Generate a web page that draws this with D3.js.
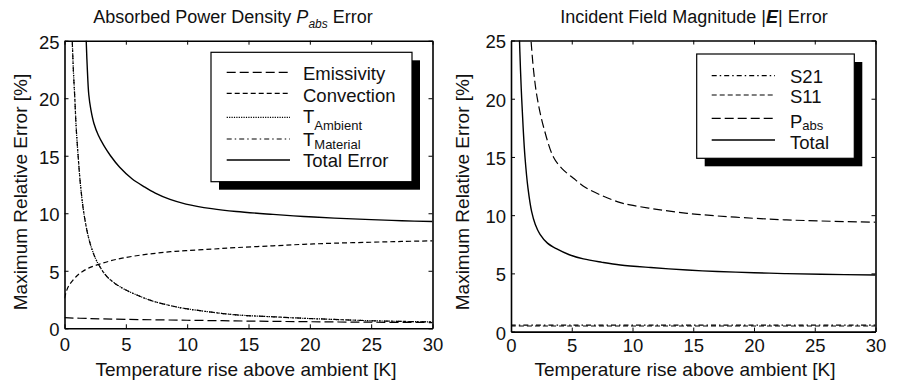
<!DOCTYPE html>
<html>
<head>
<meta charset="utf-8">
<script src="https://cdn.jsdelivr.net/npm/d3@7"></script>
<style>
body { margin: 0; background: #fff; }
svg { display: block; font-family: "Liberation Sans", Arial, sans-serif; }
</style>
</head>
<body>
<svg width="897" height="380"></svg>
<script>
// left panel: absorbed power density error
var emisX = [0, 2, 5, 10, 15, 20, 25, 30];
var emisY = [0.92, 0.85, 0.78, 0.7, 0.63, 0.57, 0.53, 0.5];
var convX = [0, 0.15, 0.35, 0.63, 1.0, 1.44, 2.0, 2.8, 3.7, 4.7, 6, 7.4, 8.64, 9.9, 12, 14.07, 17, 19.5, 22, 24.94, 27.5, 30];
var convY = [2.6, 3.2, 3.7, 4.1, 4.55, 4.92, 5.25, 5.56, 5.85, 6.1, 6.33, 6.52, 6.66, 6.75, 6.88, 7.02, 7.17, 7.3, 7.4, 7.48, 7.55, 7.6];
var tAmbX = [0.6, 0.72, 0.84, 0.95, 1.11, 1.3, 1.58, 1.98, 2.4, 2.8, 3.5, 4.7, 6, 7.15, 8.64, 9.6, 12, 14.07, 17, 19.5, 22, 24.94, 27.5, 30];
var tAmbY = [26, 22.5, 20, 17.5, 15, 12.5, 10, 7.8, 6.4, 5.5, 4.45, 3.5, 2.85, 2.38, 1.97, 1.76, 1.4, 1.16, 1.0, 0.87, 0.77, 0.66, 0.6, 0.55];
var tMatX = [0.6, 0.72, 0.84, 0.95, 1.11, 1.3, 1.58, 1.98, 2.4, 2.8, 3.5, 4.7, 6, 7.15, 8.64, 9.6, 12, 14.07, 17, 19.5, 22, 24.94, 27.5, 30];
var tMatY = [26, 22.5, 20, 17.5, 15, 12.5, 10, 7.8, 6.4, 5.5, 4.45, 3.5, 2.85, 2.38, 1.97, 1.76, 1.4, 1.16, 1.0, 0.87, 0.77, 0.66, 0.6, 0.56];
var totLX = [1.74, 1.77, 1.85, 1.98, 2.15, 2.4, 2.75, 3.2, 3.75, 4.5, 5.5, 6.5, 7.4, 8.6, 9.9, 12, 14, 17, 19.5, 22, 25, 27.5, 30];
var totLY = [26, 25, 22.8, 20.3, 19.0, 17.8, 16.8, 15.9, 15.0, 14.0, 13.0, 12.3, 11.75, 11.2, 10.8, 10.4, 10.15, 9.9, 9.72, 9.58, 9.45, 9.35, 9.28];

// right panel: incident field magnitude error
var s21X = [0, 5, 10, 15, 20, 25, 30];
var s21Y = [0.55, 0.55, 0.55, 0.55, 0.55, 0.55, 0.55];
var s11X = [0, 5, 10, 15, 20, 25, 30];
var s11Y = [0.48, 0.48, 0.48, 0.48, 0.48, 0.48, 0.48];
var pabsX = [1.58, 1.85, 2.17, 2.7, 3.49, 4.2, 5.14, 6.1, 7.34, 9.0, 9.8, 12, 14.5, 17, 20, 22.5, 25.5, 30];
var pabsY = [26, 22.5, 20, 17.5, 15, 14, 13.17, 12.4, 11.74, 11.08, 10.88, 10.5, 10.16, 9.93, 9.73, 9.6, 9.5, 9.39];
var totRX = [0.67, 0.78, 0.88, 1.0, 1.15, 1.4, 1.7, 2.0, 2.39, 3.0, 3.77, 4.8, 5.96, 7.5, 9.0, 11.5, 14.5, 17, 20, 22.5, 25.5, 30];
var totRY = [26, 22.5, 20, 17.5, 15, 12.3, 10.3, 9.2, 8.35, 7.6, 7.1, 6.6, 6.24, 5.95, 5.72, 5.5, 5.29, 5.16, 5.06, 4.98, 4.92, 4.86];

var xTicks = [0, 5, 10, 15, 20, 25, 30];
var yTicks = [0, 5, 10, 15, 20, 25];

var svg = d3.select("svg");

function zip(xs, ys) {
  return xs.map(function(x, i) { return [x, ys[i]]; });
}

function panel(opt) {
  var x = d3.scaleLinear().domain([0, 30]).range([opt.left, opt.right]);
  var y = d3.scaleLinear().domain([0, 25]).range([opt.bottom, opt.top]);
  var g = svg.append("g");

  g.append("clipPath").attr("id", opt.id)
    .append("rect")
    .attr("x", opt.left).attr("y", opt.top)
    .attr("width", opt.right - opt.left).attr("height", opt.bottom - opt.top);

  var line = d3.line()
    .x(function(d) { return x(d[0]); })
    .y(function(d) { return y(d[1]); })
    .curve(d3.curveCatmullRom.alpha(0.5));

  opt.series.forEach(function(s) {
    g.append("path")
      .attr("d", line(zip(s.xs, s.ys)))
      .attr("clip-path", "url(#" + opt.id + ")")
      .attr("fill", "none")
      .attr("stroke", "#000")
      .attr("stroke-width", s.w || 1.2)
      .attr("stroke-dasharray", s.dash);
  });

  // axes, ticks inward on all four sides
  g.append("g").attr("transform", "translate(0," + opt.bottom + ")")
    .call(d3.axisBottom(x).tickValues(xTicks).tickSizeInner(-4).tickSizeOuter(0).tickPadding(opt.xPad));
  var left = g.append("g").attr("transform", "translate(" + opt.left + ",0)")
    .call(d3.axisLeft(y).tickValues(yTicks).tickSizeInner(-4).tickSizeOuter(0).tickPadding(5));
  g.append("g").attr("transform", "translate(0," + opt.top + ")")
    .call(d3.axisTop(x).tickValues(xTicks).tickSizeInner(-4).tickSizeOuter(0).tickFormat(""));
  g.append("g").attr("transform", "translate(" + opt.right + ",0)")
    .call(d3.axisRight(y).tickValues(yTicks).tickSizeInner(-4).tickSizeOuter(0).tickFormat(""));

  g.selectAll(".domain").attr("stroke", "#000").attr("stroke-width", 1.6);
  g.selectAll(".tick line").attr("stroke", "#000").attr("stroke-width", 1);
  g.selectAll(".tick text").attr("font-size", 18.5).attr("fill", "#111")
    .attr("font-family", "Liberation Sans, Arial, sans-serif");
  left.selectAll(".tick text").attr("dy", "0.4em");

  // axis labels
  g.append("text")
    .attr("x", opt.xLabelX).attr("y", 376)
    .attr("text-anchor", "middle").attr("font-size", 19).attr("fill", "#111")
    .text("Temperature rise above ambient [K]");
  g.append("text")
    .attr("transform", "translate(" + opt.yLabelX + ",192) rotate(-90)")
    .attr("text-anchor", "middle").attr("font-size", 19).attr("fill", "#111")
    .text("Maximum Relative Error [%]");

  // legend with drop shadow
  var L = opt.legend;
  g.append("rect").attr("x", L.x + 8).attr("y", L.y + 8).attr("width", L.w).attr("height", L.h).attr("fill", "#000");
  g.append("rect").attr("x", L.x).attr("y", L.y).attr("width", L.w).attr("height", L.h)
    .attr("fill", "#fff").attr("stroke", "#000").attr("stroke-width", 1.2);
  L.items.forEach(function(it, i) {
    g.append("line")
      .attr("x1", L.lx1).attr("x2", L.lx2).attr("y1", it.ly).attr("y2", it.ly)
      .attr("stroke", "#000").attr("stroke-width", opt.series[i].w || 1.2)
      .attr("stroke-dasharray", opt.series[i].dash);
    var t = g.append("text").attr("x", L.tx).attr("y", it.ty).attr("font-size", 18.5).attr("fill", "#111");
    t.append("tspan").text(it.label);
    if (it.sub) {
      t.append("tspan").attr("font-size", 13).attr("dy", it.subDy).text(it.sub);
    }
  });

  return g;
}

panel({
  id: "clipL", left: 64.5, right: 432.5, top: 40.7, bottom: 328.3, xPad: 10,
  xLabelX: 246, yLabelX: 27,
  series: [
    { xs: emisX, ys: emisY, dash: "9,4" },
    { xs: convX, ys: convY, dash: "5,3" },
    { xs: tAmbX, ys: tAmbY, dash: "1.2,1.2" },
    { xs: tMatX, ys: tMatY, dash: "5,3,1.5,3" },
    { xs: totLX, ys: totLY, dash: null, w: 1.4 }
  ],
  legend: {
    x: 211, y: 52.3, w: 201, h: 129.4, lx1: 226.7, lx2: 290, tx: 303,
    items: [
      { label: "Emissivity", ly: 72.3, ty: 80 },
      { label: "Convection", ly: 93.3, ty: 101.7 },
      { label: "T", sub: "Ambient", subDy: 7, ly: 117.3, ty: 122.7 },
      { label: "T", sub: "Material", subDy: 3, ly: 139, ty: 146 },
      { label: "Total Error", ly: 160, ty: 167.3 }
    ]
  }
});

panel({
  id: "clipR", left: 511, right: 875.5, top: 40.5, bottom: 331.6, xPad: 7,
  xLabelX: 685, yLabelX: 469,
  series: [
    { xs: s21X, ys: s21Y, dash: "5,3,1.5,3" },
    { xs: s11X, ys: s11Y, dash: "5,3" },
    { xs: pabsX, ys: pabsY, dash: "9,4" },
    { xs: totRX, ys: totRY, dash: null, w: 1.4 }
  ],
  legend: {
    x: 696.7, y: 54, w: 157.6, h: 104.3, lx1: 711.7, lx2: 775, tx: 790,
    items: [
      { label: "S21", ly: 75.7, ty: 82.7 },
      { label: "S11", ly: 95, ty: 103.3 },
      { label: "P", sub: "abs", subDy: 2, ly: 118.3, ty: 127.5 },
      { label: "Total", ly: 140, ty: 149.2 }
    ]
  }
});

// titles
var t1 = svg.append("text").attr("x", 233).attr("y", 22.5).attr("text-anchor", "middle")
  .attr("font-size", 18).attr("fill", "#111");
t1.append("tspan").text("Absorbed Power Density ");
t1.append("tspan").attr("font-style", "italic").text("P");
t1.append("tspan").attr("font-style", "italic").attr("font-size", 12).attr("dy", 5).text("abs");
t1.append("tspan").attr("dy", -5).text(" Error");

var t2 = svg.append("text").attr("x", 694).attr("y", 22.5).attr("text-anchor", "middle")
  .attr("font-size", 18).attr("fill", "#111");
t2.append("tspan").text("Incident Field Magnitude |");
t2.append("tspan").attr("font-style", "italic").attr("font-weight", "bold").text("E");
t2.append("tspan").text("| Error");
</script>
</body>
</html>
